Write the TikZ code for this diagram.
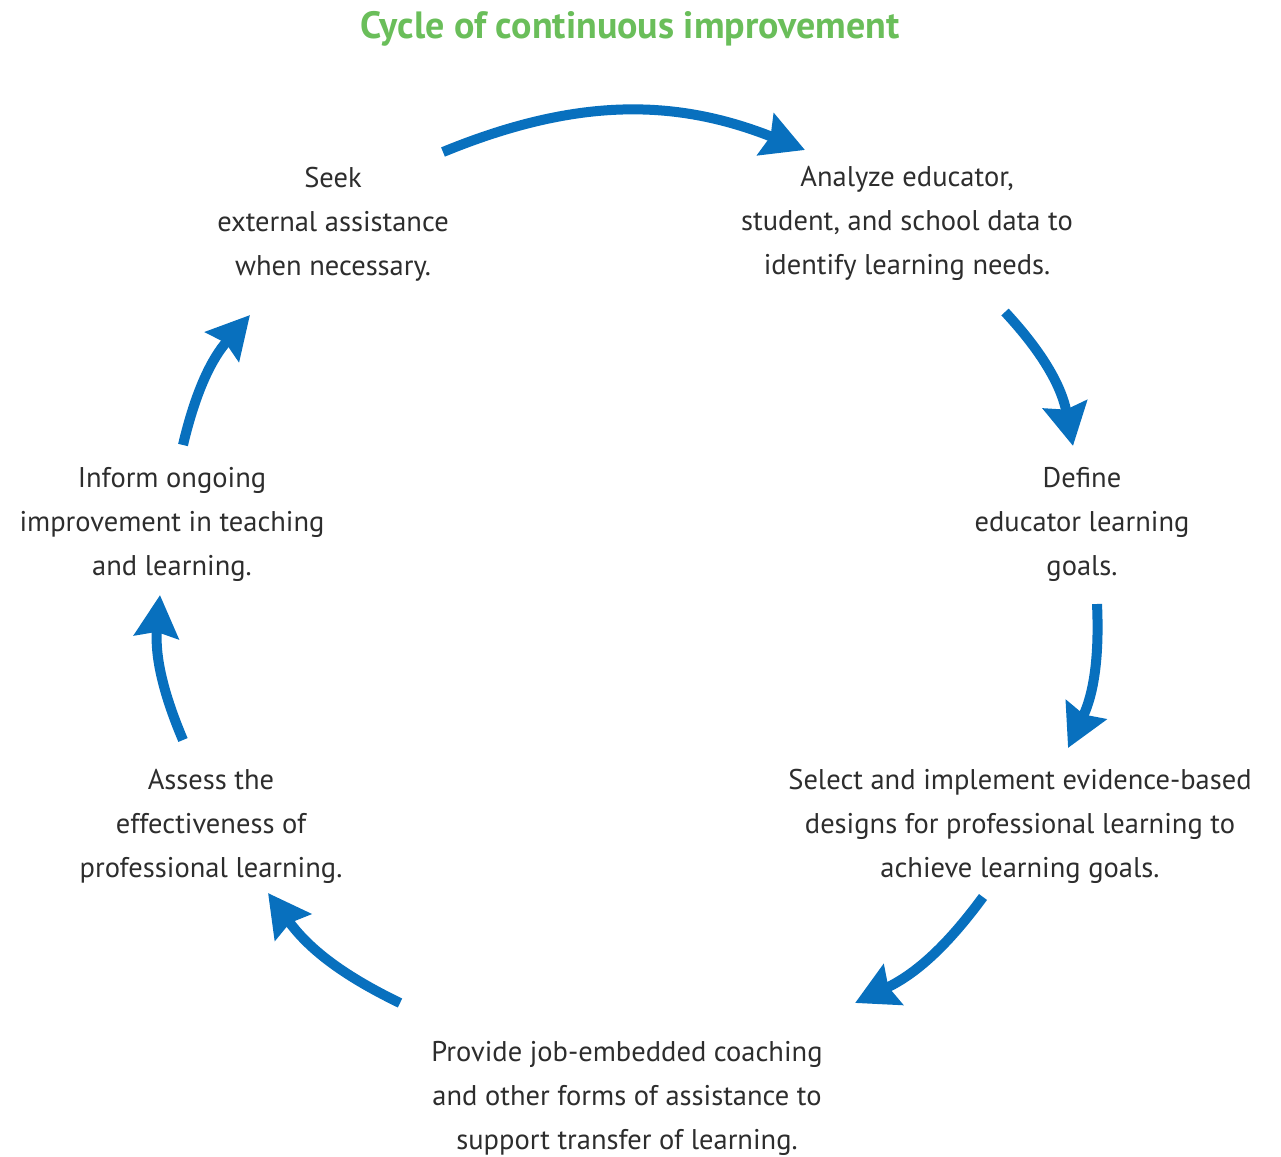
\documentclass[tikz,border=0pt]{standalone}
\usepackage{fontspec}
\setmainfont{PT Sans}
\usetikzlibrary{arrows.meta}
\definecolor{cyblue}{RGB}{8,112,190}
\definecolor{cygreen}{RGB}{106,190,90}
\definecolor{cytext}{RGB}{45,45,45}
\tikzset{
  x=1pt,y=-1pt,
  lbl/.style={align=center,text=cytext,font=\fontsize{28.5}{44}\selectfont,inner sep=0pt},
  cyarrow/.style={draw=cyblue,line width=10pt,-{Stealth[length=42pt,width=44pt,inset=5pt]}}
}
\begin{document}
\begin{tikzpicture}
\useasboundingbox (0,0) rectangle (1281,1156);
\node[font=\fontsize{38}{40}\selectfont\bfseries,text=cygreen,inner sep=0pt] (title) at (630,29) {Cycle of continuous improvement};
\node[lbl] (seek) at (333,224) {Seek\\external assistance\\when necessary.};
\node[lbl] (analyze) at (907,223) {Analyze educator,\\student, and school data to\\identify learning needs.};
\node[lbl] (define) at (1082,524) {Define\\educator learning\\goals.};
\node[lbl] (select) at (1020,826) {Select and implement evidence-based\\designs for professional learning to\\achieve learning goals.};
\node[lbl] (provide) at (627,1098) {Provide job-embedded coaching\\and other forms of assistance to\\support transfer of learning.};
\node[lbl] (assess) at (211,826) {Assess the\\effectiveness of\\professional learning.};
\node[lbl] (inform) at (172,524) {Inform ongoing\\improvement in teaching\\and learning.};
\coordinate (a1s) at (443,152); \coordinate (a1e) at (805,150);
\coordinate (a2s) at (1005,312); \coordinate (a2e) at (1073,446);
\coordinate (a3s) at (1097,604); \coordinate (a3e) at (1068,748);
\coordinate (a4s) at (983,897); \coordinate (a4e) at (855,1003);
\coordinate (a5s) at (400,1003); \coordinate (a5e) at (268,893);
\coordinate (a6s) at (183,740); \coordinate (a6e) at (160,595);
\coordinate (a7s) at (183,445); \coordinate (a7e) at (250,315);
\draw[cyarrow] (a1s) to[bend left=22] (a1e);
\draw[cyarrow] (a2s) to[bend left=16] (a2e);
\draw[cyarrow] (a3s) to[bend left=14] (a3e);
\draw[cyarrow] (a4s) to[bend left=14] (a4e);
\draw[cyarrow] (a5s) to[bend left=14] (a5e);
\draw[cyarrow] (a6s) to[bend left=14] (a6e);
\draw[cyarrow] (a7s) to[bend left=14] (a7e);
\end{tikzpicture}
\end{document}
